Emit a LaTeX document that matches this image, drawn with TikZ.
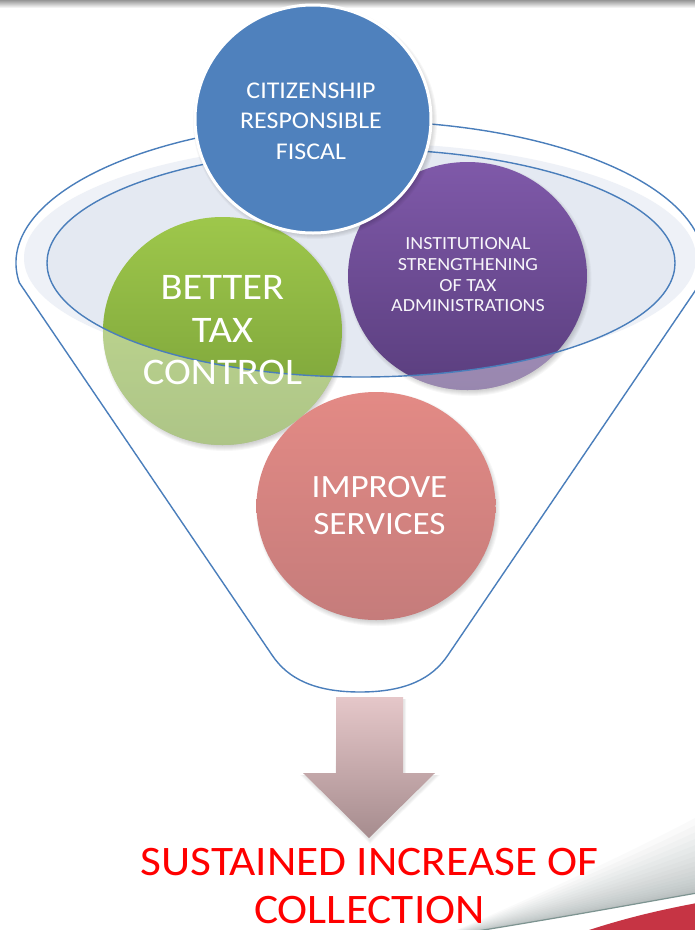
\documentclass[tikz,border=0pt]{standalone}
\usepackage{fontspec}
\setmainfont[FakeStretch=1.08]{Carlito}
\usetikzlibrary{shapes.geometric}

\definecolor{funnelline}{RGB}{74,126,187}
\definecolor{rimlight}{RGB}{238,241,247}
\definecolor{rimfill}{RGB}{228,233,242}
\definecolor{citblue}{RGB}{79,129,189}
\definecolor{greentop}{RGB}{158,199,75}
\definecolor{greenbot}{RGB}{119,158,55}
\definecolor{purptop}{RGB}{127,89,169}
\definecolor{purpbot}{RGB}{90,62,126}
\definecolor{redtop}{RGB}{227,138,133}
\definecolor{redbot}{RGB}{197,124,123}
\definecolor{arrowtop}{RGB}{229,199,201}
\definecolor{arrowbot}{RGB}{166,140,142}
\definecolor{swooshred}{RGB}{198,52,68}
\definecolor{swooshgray}{RGB}{120,135,135}
\definecolor{swooshline}{RGB}{125,148,145}
\definecolor{bargray}{RGB}{150,150,150}

\begin{document}
\begin{tikzpicture}[x=1pt, y=-1pt,
  funnel/.style={draw=funnelline, line width=1.4pt, line join=round},
  bubble/.style={ellipse, inner sep=0pt, minimum width=239pt, minimum height=228pt},
  bubbletext/.style={text=white, align=center, inner sep=0pt},
  softshadow/.style={black, fill opacity=0.03},
]
\useasboundingbox (0,0) rectangle (695,930);
\clip (0,0) rectangle (695,930);
\fill[white] (0,0) rectangle (695,930);

% slide header strip
\shade[top color=bargray, bottom color=white] (0,0) rectangle (695,8);

% bottom-right swoosh: grey fade, thin edge line, red band
\foreach \k in {1,...,20}
  \fill[swooshgray, fill opacity=0.035]
    (440,937) .. controls (560,918) and (640,903) .. (697,893)
    -- (697,{893-0.19*\k*\k}) .. controls (640,{903-0.14*\k*\k}) and (560,{918-0.08*\k*\k}) .. (440,937) -- cycle;
\draw[swooshline, line width=1.2pt] (440,937) .. controls (560,918) and (640,903) .. (697,893);
\fill[swooshred] (583,932) .. controls (625,918) and (660,910) .. (697,903) -- (697,932) -- cycle;

% funnel mouth surface
\fill[rimlight] (360,258) ellipse[x radius=336, y radius=115];
\fill[rimfill] (361,263) ellipse[x radius=314, y radius=114];

% funnel body: back rim, sides and neck
\draw[funnel] (272,655) -- (19.35,282.76)
  arc[start angle=172, end angle=368, x radius=344, y radius=142]
  -- (448,655) .. controls (432,679) and (405,692) .. (360,692)
  .. controls (315,692) and (288,679) .. (272,655) -- cycle;

% green and purple bubbles
\foreach \k in {1,...,6}
  \fill[softshadow] (224.5,334) ellipse[x radius={116+\k}, y radius={111+\k}];
\node[bubble, top color=greentop, bottom color=greenbot] (control) at (222.5,331) {};
\foreach \k in {1,...,6}
  \fill[softshadow] (469.5,279) ellipse[x radius={116+\k}, y radius={111+\k}];
\node[bubble, top color=purptop, bottom color=purpbot] (institution) at (467.5,276) {};

% the parts below the mouth sit inside the funnel and look washed out
\begin{scope}
  \clip (control.center) ellipse[x radius=119.5, y radius=114];
  \fill[white, fill opacity=0.4, even odd rule] (0,0) rectangle (695,930)
    (361,263) ellipse[x radius=314, y radius=114];
\end{scope}
\begin{scope}
  \clip (institution.center) ellipse[x radius=119.5, y radius=114];
  \fill[white, fill opacity=0.38, even odd rule] (0,0) rectangle (695,930)
    (361,263) ellipse[x radius=314, y radius=114];
\end{scope}

% red bubble inside the funnel
\foreach \k in {1,...,6}
  \fill[softshadow] (378,509) ellipse[x radius={116+\k}, y radius={111+\k}];
\node[bubble, top color=redtop, bottom color=redbot] (services) at (376,506) {};

% front edge of the mouth
\draw[funnel] (361,263) ellipse[x radius=314, y radius=114];

% blue bubble on top
\foreach \k in {1,...,6}
  \fill[softshadow] (315,122) ellipse[x radius={116+\k}, y radius={111+\k}];
\node[bubble, minimum width=236pt, fill=citblue, draw=white, line width=3pt] (citizen) at (313,119) {};

% bubble labels
\node[bubbletext, font=\fontsize{24}{30.5}\selectfont] (citizenText) at (311,121)
  {CITIZENSHIP\\RESPONSIBLE\\FISCAL};
\node[bubbletext, font=\fontsize{37.5}{42.5}\selectfont] (controlText) at (222.5,330.5)
  {BETTER\\TAX\\CONTROL};
\node[bubbletext, text=white!94!purptop, font=\fontsize{18.5}{20.7}\selectfont] (institutionText) at (468,275)
  {INSTITUTIONAL\\STRENGTHENING\\OF TAX\\ADMINISTRATIONS};
\node[bubbletext, font=\fontsize{32.5}{37}\selectfont] (servicesText) at (379.5,505.5)
  {IMPROVE\\SERVICES};

% outflow arrow
\foreach \k in {1,...,4}
  \fill[black, fill opacity=0.025] ({336+1},{697+2+\k*0.5}) -- ({403+1+\k*0.5},{697+2}) -- ({403+1+\k*0.5},{773+2})
    -- ({435+1+\k},{773+2}) -- ({369+1},{838+2+\k}) -- ({303+1-\k},{773+2}) -- ({336+1-\k*0.5},{773+2}) -- cycle;
\shade[top color=arrowtop, bottom color=arrowbot]
  (336,697) -- (403,697) -- (403,773) -- (435,773) -- (369,838) -- (303,773) -- (336,773) -- cycle;

% outcome
\node[text=red, align=center, inner sep=0pt, font=\fontsize{42}{48}\selectfont] (outcome) at (369.5,886.5)
  {SUSTAINED INCREASE OF\\COLLECTION};
\end{tikzpicture}
\end{document}
